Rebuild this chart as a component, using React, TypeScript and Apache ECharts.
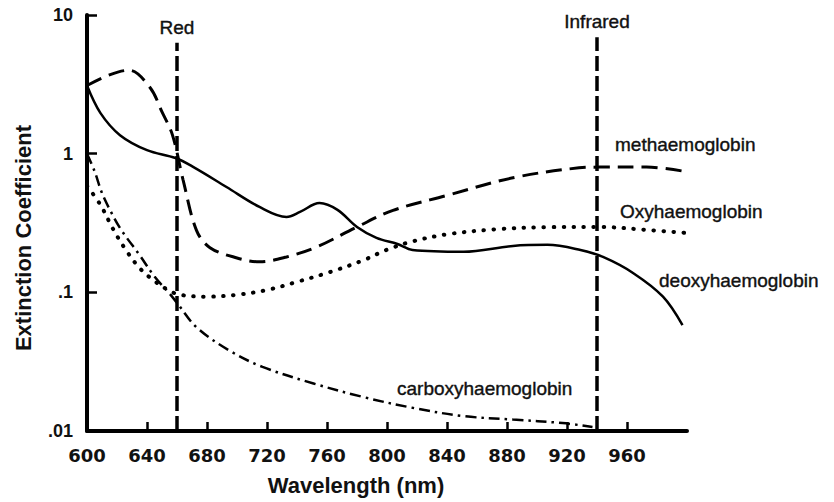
import React, { useEffect, useRef } from "react";
import * as echarts from "echarts";

// Wavelength (nm) / extinction coefficient
const methWl = [600, 615, 628, 642, 650, 657, 664, 673, 682, 700, 715, 733, 753, 780, 804, 840, 884, 928, 942, 973, 1000];
const methVal = [3.1, 3.7, 4.0, 3.0, 2.0, 1.36, 0.65, 0.28, 0.21, 0.177, 0.166, 0.18, 0.212, 0.296, 0.39, 0.5, 0.67, 0.79, 0.8, 0.8, 0.74];

const deoxyWl = [600, 609, 622, 640, 659, 671, 693, 715, 733, 742, 755, 767, 780, 793, 807, 817, 851, 884, 907, 929, 944, 964, 984, 997];
const deoxyVal = [3.1, 1.96, 1.36, 1.06, 0.93, 0.8, 0.575, 0.413, 0.35, 0.38, 0.44, 0.393, 0.296, 0.247, 0.223, 0.202, 0.196, 0.216, 0.22, 0.202, 0.18, 0.138, 0.093, 0.058];

const oxyWl = [600, 609, 617, 625, 635, 644, 654, 662, 680, 700, 720, 740, 762, 784, 800, 817, 840, 873, 907, 942, 973, 1000];
const oxyVal = [0.585, 0.427, 0.291, 0.209, 0.15, 0.123, 0.104, 0.096, 0.093, 0.096, 0.104, 0.119, 0.14, 0.17, 0.203, 0.233, 0.262, 0.285, 0.295, 0.296, 0.282, 0.268];

const carbWl = [600, 605, 610, 616, 623, 635, 645, 655, 660, 673, 695, 717, 751, 784, 817, 851, 884, 917, 937];
const carbVal = [1.0, 0.75, 0.52, 0.38, 0.28, 0.186, 0.13, 0.098, 0.084, 0.056, 0.038, 0.029, 0.022, 0.0176, 0.0147, 0.0128, 0.0121, 0.0114, 0.0107];

const markerNames = ["Red", "Infrared"];
const markerWl = [660, 940];
const markerTop = [6.3, 6.9];

const xTicks = [600, 640, 680, 720, 760, 800, 840, 880, 920, 960];
const yTickValues = [0.01, 0.1, 1, 10];
const yTickLabels = [".01", ".1", "1", "10"];

const curveLabels = ["methaemoglobin", "Oxyhaemoglobin", "deoxyhaemoglobin", "carboxyhaemoglobin"];

const zip = (xs: number[], ys: number[]) => xs.map((x, i) => [x, ys[i]]);

export default function App() {
  const ref = useRef<HTMLDivElement>(null);
  useEffect(() => {
    document.body.style.margin = "0";
    const chart = echarts.init(ref.current!, undefined, { renderer: "svg" });
    const black = "#000";
    const labelFont = {
      fontFamily: "Liberation Sans, Arial, sans-serif",
      fontSize: 19,
      fill: "#111",
      stroke: "#111",
      lineWidth: 0.4,
    };
    const curveLabelPos = [
      [615, 144],
      [620, 211],
      [659, 280],
      [397, 388],
    ];
    chart.setOption({
      animation: false,
      backgroundColor: "#fff",
      grid: { left: 87, top: 15, width: 600, height: 416, containLabel: false },
      xAxis: {
        type: "value",
        min: 600,
        max: 1000,
        interval: 40,
        axisLine: { show: true, lineStyle: { color: black, width: 4 } },
        axisTick: { show: true, inside: true, length: 9, lineStyle: { color: black, width: 2.5 } },
        splitLine: { show: false },
        axisLabel: {
          margin: 15,
          color: "#111",
          fontFamily: "DejaVu Sans",
          fontWeight: "bold",
          fontSize: 18,
          formatter: (v: number) => (xTicks.includes(v) ? String(v) : ""),
          showMaxLabel: false,
        },
      },
      yAxis: {
        type: "log",
        logBase: 10,
        min: 0.01,
        max: 10,
        axisLine: { show: true, onZero: false, lineStyle: { color: black, width: 4 } },
        axisTick: { show: true, inside: true, length: 10, lineStyle: { color: black, width: 2.5 } },
        splitLine: { show: false },
        axisLabel: {
          margin: 14,
          color: "#111",
          fontFamily: "Liberation Sans, Arial, sans-serif",
          fontWeight: "bold",
          fontSize: 18,
          formatter: (v: number) => {
            const i = yTickValues.findIndex((t) => Math.abs(Math.log10(t) - Math.log10(v)) < 1e-6);
            return i >= 0 ? yTickLabels[i] : "";
          },
        },
      },
      series: [
        {
          name: "methaemoglobin",
          type: "line",
          data: zip(methWl, methVal),
          smooth: 0.35,
          showSymbol: false,
          lineStyle: { color: black, width: 3, type: [16, 8] },
        },
        {
          name: "deoxyhaemoglobin",
          type: "line",
          data: zip(deoxyWl, deoxyVal),
          smooth: 0.35,
          showSymbol: false,
          lineStyle: { color: black, width: 2.5 },
        },
        {
          name: "Oxyhaemoglobin",
          type: "line",
          data: zip(oxyWl, oxyVal),
          smooth: 0.35,
          showSymbol: false,
          lineStyle: { color: black, width: 4, type: [0.5, 9.5], cap: "round" },
        },
        {
          name: "carboxyhaemoglobin",
          type: "line",
          data: zip(carbWl, carbVal),
          smooth: 0.35,
          showSymbol: false,
          lineStyle: { color: black, width: 2.5, type: [11, 5, 2.5, 5] },
        },
        ...markerNames.map((name, i) => ({
          name,
          type: "line",
          data: [
            [markerWl[i], 0.01],
            [markerWl[i], markerTop[i]],
          ],
          showSymbol: true,
          symbol: "circle",
          symbolSize: 2,
          itemStyle: { color: "rgba(0,0,0,0)", borderWidth: 0 },
          label: {
            show: true,
            position: "top",
            distance: 5,
            formatter: (p: any) => (p.dataIndex === 1 ? name : ""),
            color: "#111",
            fontFamily: "Liberation Sans, Arial, sans-serif",
            fontSize: 19,
            textBorderColor: "#111",
            textBorderWidth: 0.4,
          },
          lineStyle: { color: black, width: 3.5, type: [15, 5] },
        })),
      ],
      graphic: [
        ...curveLabels.map((t, i) => ({
          type: "text",
          x: curveLabelPos[i][0],
          y: curveLabelPos[i][1],
          style: { ...labelFont, text: t, align: "left", verticalAlign: "middle" },
        })),
        {
          type: "text",
          x: 356,
          y: 485,
          style: {
            text: "Wavelength (nm)",
            fontFamily: "Liberation Sans, Arial, sans-serif",
            fontWeight: "bold",
            fontSize: 22,
            fill: "#111",
            align: "center",
            verticalAlign: "middle",
          },
        },
        {
          type: "text",
          x: 23,
          y: 238,
          rotation: Math.PI / 2,
          style: {
            text: "Extinction Coefficient",
            fontFamily: "Liberation Sans, Arial, sans-serif",
            fontWeight: "bold",
            fontSize: 22,
            fill: "#111",
            align: "center",
            verticalAlign: "middle",
          },
        },
      ],
    });
    return () => chart.dispose();
  }, []);
  return <div ref={ref} style={{ width: 834, height: 502 }} />;
}
